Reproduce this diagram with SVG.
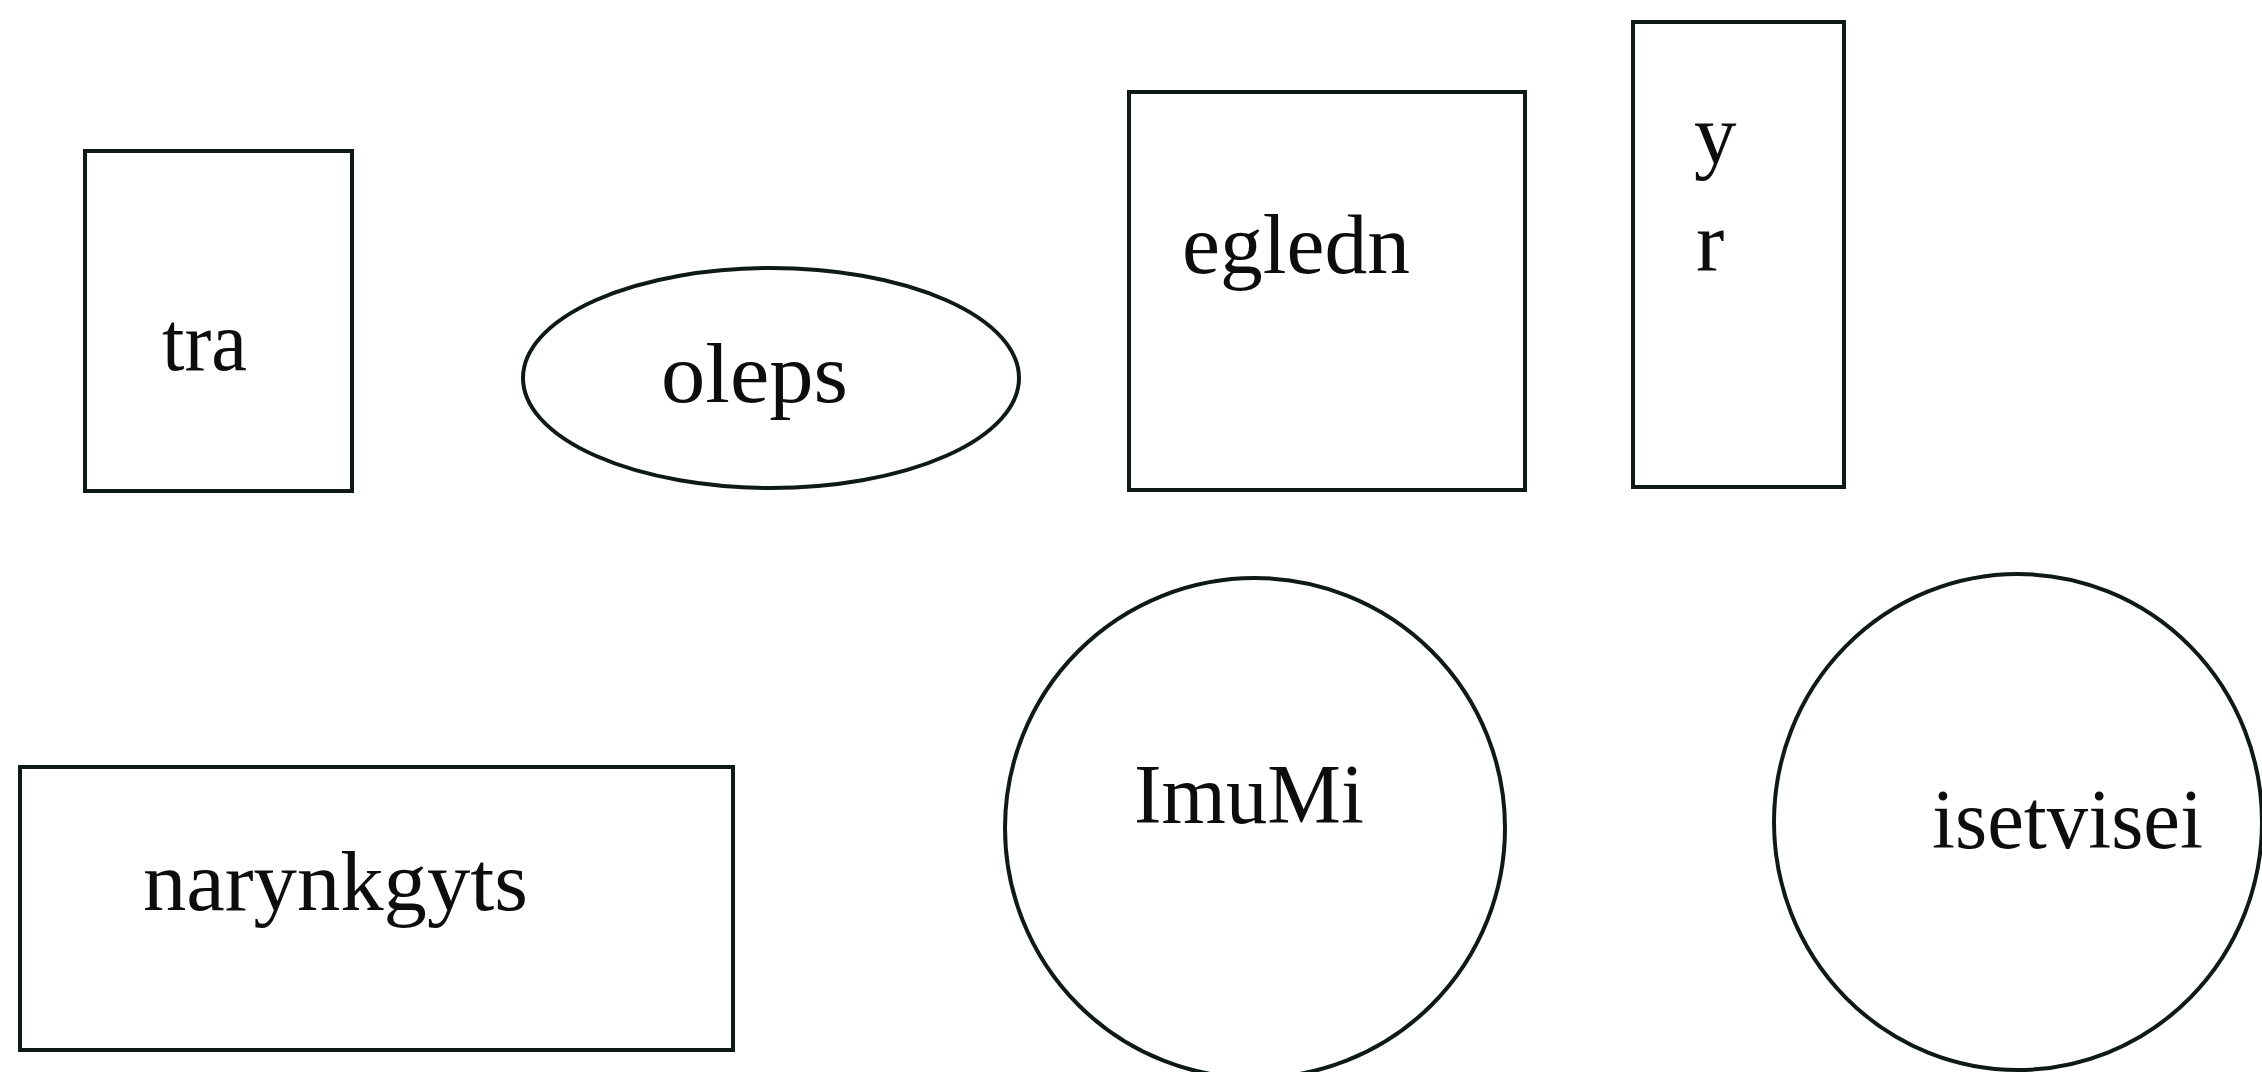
<svg xmlns="http://www.w3.org/2000/svg" width="2262" height="1072" viewBox="0 0 2262 1072">
<style>
.s{fill:#ffffff;stroke:#101a15;stroke-width:4}
.t{font-family:"Liberation Serif","Times New Roman",serif;font-size:85px;fill:#0d0d0d}
</style>
<rect width="2262" height="1072" fill="#ffffff"/>
<g id="connectors"></g>
<g id="tra"><rect class="s" x="85" y="151" width="267" height="340"/><text class="t" x="162" y="370" textLength="85" lengthAdjust="spacingAndGlyphs">tra</text></g>
<g id="oleps"><ellipse class="s" cx="771" cy="378" rx="248" ry="110"/><text class="t" x="661" y="402" textLength="187" lengthAdjust="spacingAndGlyphs">oleps</text></g>
<g id="egledn"><rect class="s" x="1129" y="92" width="396" height="398"/><text class="t" x="1182" y="273" textLength="228" lengthAdjust="spacingAndGlyphs">egledn</text></g>
<g id="yr"><rect class="s" x="1633" y="22" width="211" height="465"/><text class="t" x="1694" y="163">y</text><text class="t" x="1696" y="270">r</text></g>
<g id="narynkgyts"><rect class="s" x="20" y="767" width="713" height="283"/><text class="t" x="143" y="910" textLength="385" lengthAdjust="spacingAndGlyphs">narynkgyts</text></g>
<g id="ImuMi"><circle class="s" cx="1255" cy="828" r="250"/><text class="t" x="1134" y="823" textLength="230" lengthAdjust="spacingAndGlyphs">ImuMi</text></g>
<g id="isetvisei"><ellipse class="s" cx="2018" cy="822" rx="244" ry="248"/><text class="t" x="1932" y="848" textLength="271" lengthAdjust="spacingAndGlyphs">isetvisei</text></g>
</svg>
